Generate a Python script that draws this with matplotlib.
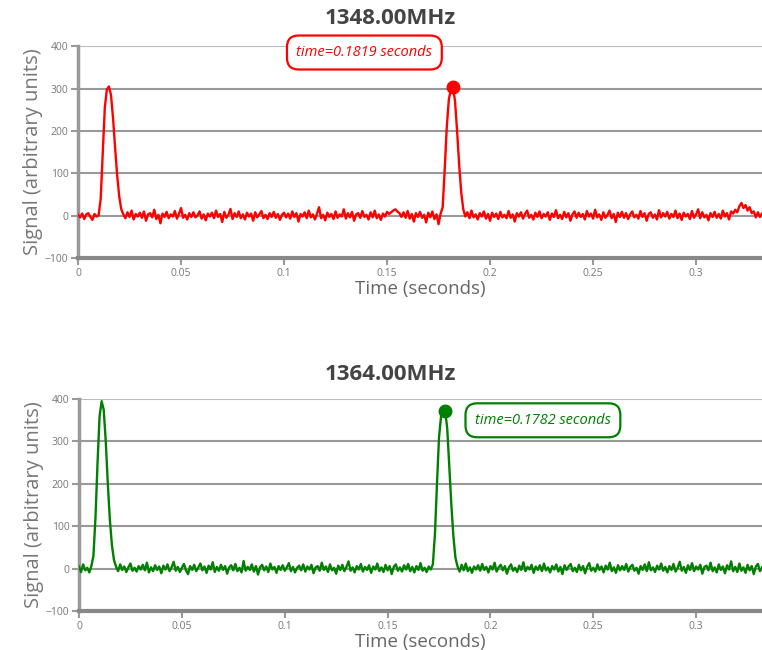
#!/usr/bin/env python3
"""Pulse signal plots at two frequencies."""
import numpy as np
import matplotlib.pyplot as plt

plt.rcParams['font.family'] = ['Open Sans', 'DejaVu Sans']

dt = 0.001  # sample spacing (s)

# 1348.00 MHz channel, one sample per ms
sig_1348 = [
    2, -4, 5, -8, 3, 6, -3, -10, 4, -2, 1,
    40, 150, 255, 298, 305, 285, 230, 160, 95, 45, 15, 3,
    -6, 8, -3, 12, -9, 4, -2, 7, -5, 10, -12, 3, 6, -4, 14, -8, 2, -18, 5, -3,
    9, -6, 3, -2, 11, -7, 4, 18, -5, 2, -9, 6, -3, 8, -4, 1, 10, -7, 3, -11,
    5, -2, 7, -6, 12, -3, 4, -15, 9, -5, 2, 16, -8, 6, -3, 10, -6, 3, -9, 7,
    -2, 5, -12, 8, -4, 3, 11, -6, 2, -8, 6, -3, 9, -5, 4, -10, 2, 7, -4, 5,
    -7, 10, -3, 6, -14, 4, -2, 8, -6, 12, -4, 3, -9, 5, 20, -6, 2, -11, 7, -3,
    4, -8, 10, -5, 3, -2, 15, -7, 6, -4, 9, -12, 3, 6, -5, 11, -3, 2, -9, 8,
    -4, 12, -6, 3, -10, 5, -2, 9, 4, 8, 12, 15, 10, 6, -3, 8, -5, 11, -7, 4,
    -14, 6, -3, 9, -5, 2, -16, 7, -4, 10, -8, 3, -20, 5,
    20, 110, 210, 275, 298, 303, 270, 200, 120, 55, 15, -2,
    8, -6, 12, -4, 3, -9, 6, -2, 10, -7, 4, -12, 7, -3, 5, -8, 9, -4, 2, -6,
    11, -5, 3, -14, 6, -2, 8, -7, 4, 12, -5, 2, -9, 7, -3, 10, -6, 4, -2, 8,
    -10, 5, -3, 13, -6, 2, -8, 9, -4, 6, -12, 3, 10, -5, 7, -3, 4, -9, 11, -2,
    5, -7, 14, -4, 3, -10, 8, -5, 2, 12, -6, 4, -15, 7, -3, 9, -5, 6, -8, 3,
    10, -4, 2, -7, 11, -3, 6, -12, 4, 8, -5, 3, -9, 13, -4, 6, -2, 9, -7, 4,
    -3, 12, -6, 5, -10, 7, -2, 4, -8, 11, -5, 3, 15, -6, 8, -4, 2, -11, 6, -3,
    9, -5, 4, -7, 12, -2, 6, -9, 10, 5, 14, 8, 22, 30, 18, 25, 12, 20, 6, 10,
    -4, 8, -3, 5,
]

# 1364.00 MHz channel
sig_1364 = [
    5, -8, 10, -4, 2, -9, 6,
    30, 120, 250, 360, 395, 375, 300, 200, 115, 55, 20, 5,
    -6, 10, -3, 5, -8, 3, 12, -5, 2, -7, 6, -2, 9, -4, 14, -9, 3, -6, 8, -3,
    5, -11, 7, -2, 10, -6, 3, 16, -5, 4, -8, 2, 11, -4, -13, 6, -3, 9, -6, 3,
    12, -4, 5, -10, 7, -2, 15, -8, 4, -5, 9, -3, 6, -12, 3, 8, -4, 11, -6, 2,
    -9, 18, -5, 4, -3, 10, -7, 6, -14, 3, 9, -4, 5, -8, 12, -2, 4, -10, 6, -3,
    8, -5, 3, 13, -6, 4, -9, 2, 7, -4, 10, -7, 5, -2, 9, -11, 3, 6, -5, 14,
    -3, 5, -8, 10, -4, 2, -12, 7, -3, 9, -6, 4, 17, -5, 3, -9, 6, -2, 11, -7,
    4, -3, 8, -10, 5, -2, 12, -6, 3, -8, 9, -4, 6, -13, 4, 10, -5, 3, -7, 8,
    -2, 11, -6, 4, -9, 6, -3, 13, -5, 2, -8, 5, -2,
    10, 80, 200, 310, 360, 368, 372, 330, 240, 150, 75, 25, 5,
    -7, 9, -4, 12, -6, 3, -10, 5, -2, 8, -5, 11, -3, 4, -9, 6, -2, 14, -7, 3,
    9, -4, 6, -12, 3, 10, -5, 2, -8, 7, -3, 15, -6, 4, -2, 9, -10, 5, -3, 8,
    -6, 12, -4, 3, -9, 6, -2, 10, -7, 4, -13, 8, -3, 5, 11, -6, 2, -8, 9, -4,
    6, -11, 4, 13, -5, 2, -7, 10, -3, 5, -9, 7, -2, 14, -6, 3, -10, 8, -4, 6,
    -3, 11, -7, 4, 9, -5, 2, -12, 6, -3, 10, -6, 15, -4, 3, -8, 7, -2, 12, -5,
    4, -9, 6, -3, 11, -7, 2, 16, -5, 4, -10, 8, -3, 13, -6, 5, -2, 9, -12, 4,
    7, -4, 14, -6, 3, -9, 10, -3, 5, -11, 8, -2, 17, -6, 4, -8, 12, -5, 3, -10,
    9, -4, 6, -13, 5, 11, -6, 3,
]

titles = ["1348.00MHz", "1364.00MHz"]
labels = ["time=0.1819 seconds", "time=0.1782 seconds"]
colors = ["#ff0000", "#008000"]
xticks = [0, 0.05, 0.1, 0.15, 0.2, 0.25, 0.3]
xticklabels = ["0", "0.05", "0.1", "0.15", "0.2", "0.25", "0.3"]
yticks = [-100, 0, 100, 200, 300, 400]

fig = plt.figure(figsize=(7.62, 6.5), dpi=100)
axes = [fig.add_axes([0.1024, 0.603, 0.8976, 0.326]),
        fig.add_axes([0.1037, 0.060, 0.8963, 0.326])]
title_y = [1 - 18 / 650, 1 - 374 / 650]
# label box positions (data coords) and marker search windows
box_xy = [(0.139, 385), (0.2255, 350)]
win = [(0.15, 0.25), (0.15, 0.25)]

for i, (ax, sig) in enumerate(zip(axes, [sig_1348, sig_1364])):
    sig = np.array(sig, dtype=float)
    t = np.arange(len(sig)) * dt
    ax.plot(t, sig, color=colors[i], lw=1.7, zorder=3)

    # peak marker in second pulse
    m = (t >= win[i][0]) & (t <= win[i][1])
    k = np.argmax(np.where(m, sig, -1e9))
    ax.plot(t[k], sig[k], 'o', color=colors[i], ms=9, zorder=4)

    ax.text(box_xy[i][0], box_xy[i][1], labels[i], color=colors[i],
            fontsize=10.5, style='italic', ha='center', va='center', zorder=5,
            bbox=dict(boxstyle='round,pad=0.65,rounding_size=0.8',
                      fc='white', ec=colors[i], lw=1.6))

    ax.set_xlim(0, 0.332)
    ax.set_ylim(-100, 400)
    ax.set_xticks(xticks)
    ax.set_xticklabels(xticklabels)
    ax.set_yticks(yticks)
    for y in yticks[1:]:
        ax.axhline(y, color='#bbbbbb' if y == 400 else '#999999',
                   lw=1.5, zorder=1)

    for s in ['top', 'right']:
        ax.spines[s].set_visible(False)
    ax.spines['left'].set_color('#999999')
    ax.spines['left'].set_linewidth(2.5)
    ax.spines['bottom'].set_color('#888888')
    ax.spines['bottom'].set_linewidth(3)
    ax.tick_params(axis='both', colors='#999999', labelcolor='#777777',
                   labelsize=7.5, length=5, width=1.5, pad=2)
    ax.set_xlabel("Time (seconds)", color='#666666', fontsize=13.5,
                  labelpad=1)
    ax.set_ylabel("Signal (arbitrary units)", color='#777777', fontsize=14.5,
                  labelpad=1)
    fig.text(390 / 762, title_y[i], titles[i], ha='center', va='center',
             fontsize=16, fontweight='bold', color='#444444')

fig.savefig("out.png", dpi=100)
